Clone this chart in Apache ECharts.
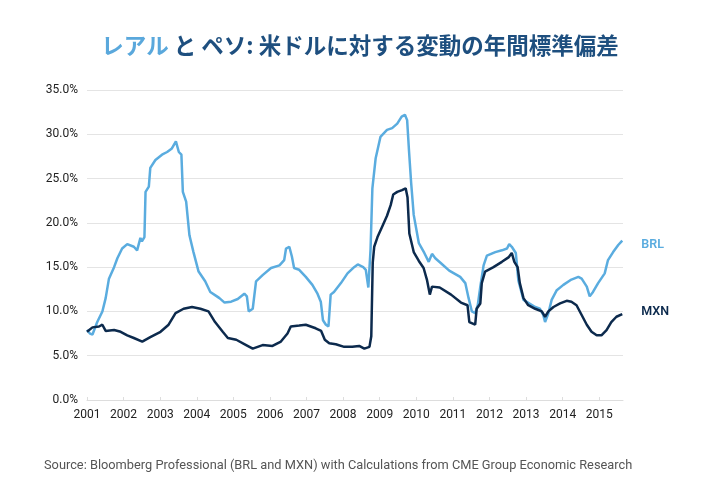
<!DOCTYPE html>
<html>
<head>
<meta charset="utf-8">
<script src="https://cdn.jsdelivr.net/npm/echarts@6/dist/echarts.min.js"></script>
<style>
html,body{margin:0;padding:0;background:#fff;}
#chart{width:720px;height:500px;}
</style>
</head>
<body>
<div id="chart"></div>
<script>
var yearTicks = [2001,2002,2003,2004,2005,2006,2007,2008,2009,2010,2011,2012,2013,2014,2015];

var brlDates = [2001.00,2001.08,2001.15,2001.28,2001.42,2001.51,2001.60,2001.74,2001.83,2001.96,
2002.10,2002.28,2002.37,2002.46,2002.50,2002.57,2002.60,2002.69,2002.73,2002.87,
2003.05,2003.19,2003.32,2003.43,2003.51,2003.58,2003.62,2003.71,2003.80,2003.91,
2004.05,2004.23,2004.37,2004.55,2004.62,2004.76,2004.94,2005.12,2005.30,2005.37,
2005.42,2005.53,2005.62,2005.80,2006.03,2006.26,2006.39,2006.44,2006.53,2006.60,
2006.66,2006.80,2006.98,2007.16,2007.30,2007.39,2007.45,2007.53,2007.60,2007.66,
2007.75,2007.94,2008.12,2008.30,2008.40,2008.55,2008.62,2008.69,2008.75,2008.80,
2008.89,2009.02,2009.20,2009.34,2009.48,2009.60,2009.69,2009.75,2009.80,2009.86,
2009.93,2010.07,2010.22,2010.34,2010.43,2010.52,2010.66,2010.90,2011.20,2011.34,
2011.43,2011.52,2011.61,2011.68,2011.75,2011.84,2011.93,2012.16,2012.34,2012.48,
2012.54,2012.61,2012.72,2012.79,2012.93,2013.25,2013.38,2013.47,2013.52,2013.61,
2013.70,2013.84,2014.02,2014.24,2014.43,2014.52,2014.66,2014.74,2014.83,2014.97,
2015.15,2015.24,2015.38,2015.52,2015.63];
var brlValues = [7.9,7.5,7.4,8.8,10.0,11.5,13.7,15.0,16.0,17.1,
17.6,17.3,16.9,18.3,17.9,18.4,23.5,24.1,26.2,27.1,
27.7,28.0,28.4,29.2,28.0,27.7,23.5,22.4,18.6,16.7,
14.5,13.4,12.2,11.7,11.5,11.0,11.1,11.4,12.0,11.7,
10.0,10.3,13.4,14.1,14.9,15.2,15.8,17.1,17.3,16.2,
14.9,14.7,13.9,13.0,12.0,11.1,9.0,8.5,8.3,11.9,
12.2,13.2,14.3,15.0,15.3,15.0,14.7,12.7,17.0,23.9,
27.3,29.7,30.5,30.7,31.2,32.0,32.2,31.6,28.2,24.5,
20.9,17.7,16.6,15.6,16.5,16.0,15.5,14.6,13.9,13.2,
11.5,10.0,9.8,10.7,12.8,15.2,16.3,16.7,16.9,17.1,
17.6,17.3,16.6,13.5,11.3,10.5,10.3,9.6,8.8,9.8,
11.3,12.4,13.0,13.6,13.9,13.7,12.8,11.7,12.2,13.2,
14.3,15.8,16.7,17.5,18.0];

var mxnDates = [2001.00,2001.15,2001.33,2001.42,2001.51,2001.74,2001.92,2002.10,2002.28,2002.51,
2002.73,2003.01,2003.23,2003.42,2003.64,2003.87,2004.10,2004.32,2004.50,2004.71,
2004.85,2005.08,2005.35,2005.53,2005.80,2006.07,2006.30,2006.48,2006.57,2006.80,
2006.98,2007.25,2007.40,2007.50,2007.62,2007.80,2008.03,2008.25,2008.44,2008.58,
2008.72,2008.77,2008.81,2008.85,2008.94,2009.07,2009.20,2009.30,2009.37,2009.48,
2009.61,2009.71,2009.76,2009.81,2009.93,2010.07,2010.20,2010.29,2010.37,2010.43,
2010.64,2010.95,2011.22,2011.40,2011.45,2011.61,2011.65,2011.75,2011.79,2011.88,
2012.11,2012.34,2012.52,2012.61,2012.68,2012.77,2012.83,2012.93,2013.06,2013.25,
2013.43,2013.52,2013.61,2013.75,2013.93,2014.11,2014.24,2014.38,2014.52,2014.66,
2014.79,2014.93,2015.06,2015.20,2015.33,2015.47,2015.63];
var mxnValues = [7.7,8.2,8.3,8.5,7.8,7.9,7.7,7.3,7.0,6.6,
7.1,7.7,8.5,9.8,10.3,10.5,10.3,10.0,8.8,7.7,
7.0,6.8,6.2,5.8,6.2,6.1,6.6,7.5,8.3,8.4,
8.5,8.1,7.8,6.8,6.4,6.3,6.0,6.0,6.1,5.8,
6.0,7.2,15.5,17.3,18.4,19.6,20.8,22.0,23.2,23.5,
23.7,23.9,22.9,18.8,16.7,15.7,14.9,13.6,11.9,12.8,
12.7,11.9,11.0,10.7,8.8,8.5,10.3,10.9,13.2,14.5,
15.0,15.6,16.1,16.6,15.6,15.0,13.2,11.5,10.7,10.3,
10.0,9.4,10.0,10.5,10.9,11.2,11.1,10.7,9.6,8.5,
7.7,7.3,7.3,7.9,8.8,9.4,9.7];

var yTicks = [0,5,10,15,20,25,30,35];

var BRL_COLOR = '#5aacdf';
var MXN_COLOR = '#0c2a4d';

function pairs(xs, ys){ return xs.map(function(x,i){ return [x, ys[i]]; }); }

var chart = echarts.init(document.getElementById('chart'), null, {renderer:'canvas'});
chart.setOption({
  animation:false,
  backgroundColor:'#ffffff',
  title:{
    left:'center', top:29,
    text:'{a|レアル} {b|と ペソ: 米ドルに対する変動の年間標準偏差}',
    textStyle:{
      rich:{
        a:{color:'#5aa8dc', fontSize:22.5, fontWeight:'bold', fontFamily:'Noto Sans CJK JP'},
        b:{color:'#1e4f7f', fontSize:22.5, fontWeight:'bold', fontFamily:'Noto Sans CJK JP'}
      }
    }
  },
  grid:{left:87, right:97, top:90, bottom:100},
  xAxis:{
    type:'value', min:yearTicks[0], max:2015.65, interval:1,
    axisLine:{show:true, lineStyle:{color:'#dddddd', width:1}},
    axisTick:{show:true, inside:true, length:3, lineStyle:{color:'#dddddd'}},
    splitLine:{show:false},
    axisLabel:{
      color:'#222', fontSize:12, fontFamily:'Roboto', margin:9, showMaxLabel:false,
      formatter:function(v){ return yearTicks.indexOf(v) >= 0 ? String(v) : ''; }
    }
  },
  yAxis:{
    type:'value', min:yTicks[0], max:yTicks[yTicks.length-1], interval:5,
    axisLine:{show:false}, axisTick:{show:false},
    splitLine:{lineStyle:{color:'#e4e4e4', width:1}},
    axisLabel:{color:'#222', fontSize:12, fontFamily:'Roboto', margin:9,
      formatter:function(v){ return v.toFixed(1)+'%'; }}
  },
  series:[
    {
      name:'BRL', type:'line', data:pairs(brlDates, brlValues), showSymbol:false,
      lineStyle:{color:BRL_COLOR, width:2.5}, itemStyle:{color:BRL_COLOR},
      endLabel:{show:true, formatter:'BRL', color:BRL_COLOR, fontSize:12.5, fontWeight:600,
        fontFamily:'Roboto', distance:19, offset:[0,4]}
    },
    {
      name:'MXN', type:'line', data:pairs(mxnDates, mxnValues), showSymbol:false,
      lineStyle:{color:MXN_COLOR, width:2.5}, itemStyle:{color:MXN_COLOR},
      endLabel:{show:true, formatter:'MXN', color:MXN_COLOR, fontSize:12.5, fontWeight:600,
        fontFamily:'Roboto', distance:19, offset:[0,-2]}
    }
  ],
  graphic:[{
    type:'text', left:44, top:459,
    style:{text:'Source: Bloomberg Professional (BRL and MXN) with Calculations from CME Group Economic Research',
      fill:'#555', fontSize:12.8, fontFamily:'Roboto'}
  }]
});
</script>
</body>
</html>
